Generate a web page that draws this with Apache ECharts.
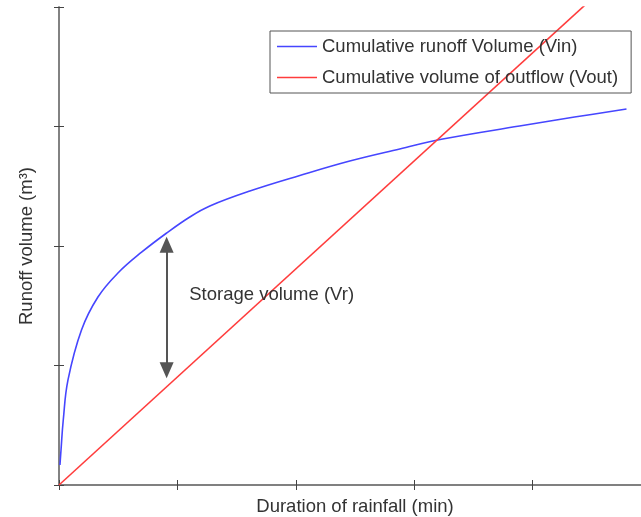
<!DOCTYPE html>
<html>
<head>
<meta charset="utf-8">
<script src="https://cdn.jsdelivr.net/npm/echarts@6/dist/echarts.min.js"></script>
<style>
  html, body { margin: 0; padding: 0; background: #fff; }
  #chart { width: 641px; height: 517px; }
</style>
</head>
<body>
<div id="chart"></div>
<script>
// duration of rainfall (axis units)
const vinX = [0.008, 0.017, 0.036, 0.076, 0.19, 0.329, 0.498, 0.70, 0.911, 1.105, 1.274, 1.612, 2.034, 2.456, 2.878, 3.241, 3.89, 4.354, 4.793];
const vinY = [0.167, 0.293, 0.544, 0.879, 1.297, 1.573, 1.774, 1.950, 2.11, 2.243, 2.335, 2.46, 2.59, 2.711, 2.812, 2.895, 3.004, 3.079, 3.146];
const voutX = [0, 5];
const voutY = [0, 4.52];
// storage arrow + label
const arrowX = 0.909;
const arrowY = [2.01, 0.96];
const labelPos = [1.1, 1.59];

const names = ['Cumulative runoff Volume (Vin)', 'Cumulative volume of outflow (Vout)'];
const textColor = '#333';
const font = 'Liberation Sans';
const fontSize = 18.5;

const chart = echarts.init(document.getElementById('chart'));

const axisLine = { show: true, lineStyle: { color: '#7a7a7a', width: 1.5 } };
const axisTick = { show: true, inside: true, length: 5, lineStyle: { color: '#444', width: 1 } };

chart.setOption({
  animation: false,
  textStyle: { fontFamily: font },
  grid: { left: 59, top: 7, right: -10, bottom: 32, outerBoundsMode: 'none', containLabel: false },
  legend: {
    orient: 'vertical',
    left: 270, top: 31,
    padding: [5, 13, 5, 7],
    itemGap: 10,
    itemWidth: 40, itemHeight: 1.5,
    icon: 'rect',
    borderColor: '#555', borderWidth: 1,
    textStyle: { color: textColor, fontSize: fontSize, fontFamily: font, lineHeight: 21 },
    data: names
  },
  xAxis: [{
    type: 'value', min: 0, max: 5, interval: 1,
    axisLine, axisTick,
    axisLabel: { show: false }, splitLine: { show: false },
    name: 'Duration of rainfall (min)', nameLocation: 'middle', nameGap: 12,
    nameTextStyle: { color: textColor, fontSize: fontSize, fontFamily: font }
  }, {
    type: 'value', min: 0, max: 5, interval: 1, position: 'top',
    axisLine, axisTick,
    axisLabel: { show: false }, splitLine: { show: false }
  }],
  yAxis: [{
    type: 'value', min: 0, max: 4, interval: 1,
    axisLine, axisTick,
    axisLabel: { show: false }, splitLine: { show: false },
    name: 'Runoff volume (m³)', nameLocation: 'middle', nameGap: 23,
    nameTextStyle: { color: textColor, fontSize: fontSize, fontFamily: font }
  }, {
    type: 'value', min: 0, max: 4, interval: 1, position: 'right',
    axisLine, axisTick,
    axisLabel: { show: false }, splitLine: { show: false }
  }],
  series: [{
    name: names[0],
    type: 'line',
    smooth: 0.4,
    symbol: 'none',
    clip: true,
    lineStyle: { color: '#4646ff', width: 1.6 },
    itemStyle: { color: '#4646ff' },
    data: vinX.map((x, i) => [x, vinY[i]]),
    markLine: {
      silent: true,
      symbol: ['triangle', 'triangle'],
      symbolSize: [14, 16],
      label: { show: false },
      lineStyle: { color: '#555', width: 2, type: 'solid' },
      data: [[{ coord: [arrowX, arrowY[0]] }, { coord: [arrowX, arrowY[1]] }]]
    },
    markPoint: {
      silent: true,
      symbol: 'circle', symbolSize: 0,
      label: {
        show: true, position: 'right', distance: 0,
        formatter: 'Storage volume (Vr)',
        color: textColor, fontSize: fontSize, fontFamily: font
      },
      data: [{ coord: labelPos }]
    }
  }, {
    name: names[1],
    type: 'line',
    symbol: 'none',
    clip: true,
    lineStyle: { color: '#ff3c3c', width: 1.6 },
    itemStyle: { color: '#ff3c3c' },
    data: voutX.map((x, i) => [x, voutY[i]])
  }]
});
</script>
</body>
</html>
